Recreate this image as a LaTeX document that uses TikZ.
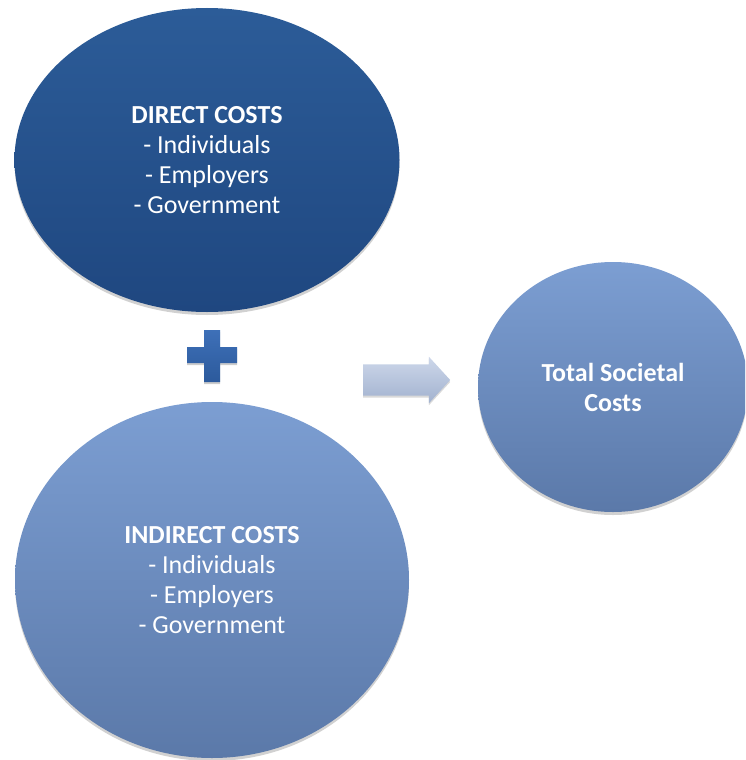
\documentclass[tikz,border=0pt]{standalone}
\usepackage{fontspec}
\setmainfont{Carlito}
\usetikzlibrary{shapes.geometric,shapes.arrows,shadows}

\definecolor{deepTop}{HTML}{2C5C98}
\definecolor{deepBot}{HTML}{1F4780}
\definecolor{paleTop}{HTML}{7C9ED2}
\definecolor{paleBot}{HTML}{5B79A9}
\definecolor{plusTop}{HTML}{3E70B8}
\definecolor{plusBot}{HTML}{2C5A9C}
\definecolor{arrowTop}{HTML}{CDD7EA}
\definecolor{arrowBot}{HTML}{A2B2CF}

\tikzset{
  costblob/.style={ellipse, inner sep=0pt, text=white, align=center,
    font=\fontsize{26}{30}\selectfont,
    drop shadow={shadow xshift=0pt, shadow yshift=-3pt, opacity=0.18, fill=black}},
  deepblob/.style={costblob, top color=deepTop, bottom color=deepBot},
  paleblob/.style={costblob, top color=paleTop, bottom color=paleBot},
  flowarrow/.style={single arrow, draw=none, inner xsep=0pt, inner ysep=15.5pt,
    top color=arrowTop, bottom color=arrowBot,
    minimum height=87pt,
    single arrow head extend=7.5pt, single arrow tip angle=95,
    drop shadow={shadow xshift=0pt, shadow yshift=-2pt, opacity=0.15, fill=black}},
  plusmark/.style={top color=plusTop, bottom color=plusBot,
    drop shadow={shadow xshift=0pt, shadow yshift=-2pt, opacity=0.2, fill=black}}
}

\begin{document}
\begin{tikzpicture}[x=1pt, y=-1pt]
  \useasboundingbox (0,0) rectangle (745,760);
  \clip (0,0) rectangle (745,760);
  \fill[white] (0,0) rectangle (745,760);

  % direct costs
  \node[deepblob, minimum width=385pt, minimum height=304pt] (direct) at (207,160)
    {\textbf{DIRECT COSTS}\\- Individuals\\- Employers\\- Government};

  % indirect costs
  \node[paleblob, minimum width=394pt, minimum height=356pt] (indirect) at (212,580)
    {\textbf{INDIRECT COSTS}\\- Individuals\\- Employers\\- Government};

  % result
  \node[paleblob, minimum width=270pt, minimum height=250pt] (total) at (613,387)
    {\textbf{Total Societal}\\\textbf{Costs}};

  % plus sign between the two cost groups
  \path[plusmark] (204,330) -- (220,330) -- (220,347) -- (237,347) -- (237,363)
    -- (220,363) -- (220,382) -- (204,382) -- (204,363) -- (187,363)
    -- (187,347) -- (204,347) -- cycle;

  % arrow towards the total
  \node[flowarrow] (arrow) at (399.5,380) {};
\end{tikzpicture}
\end{document}
